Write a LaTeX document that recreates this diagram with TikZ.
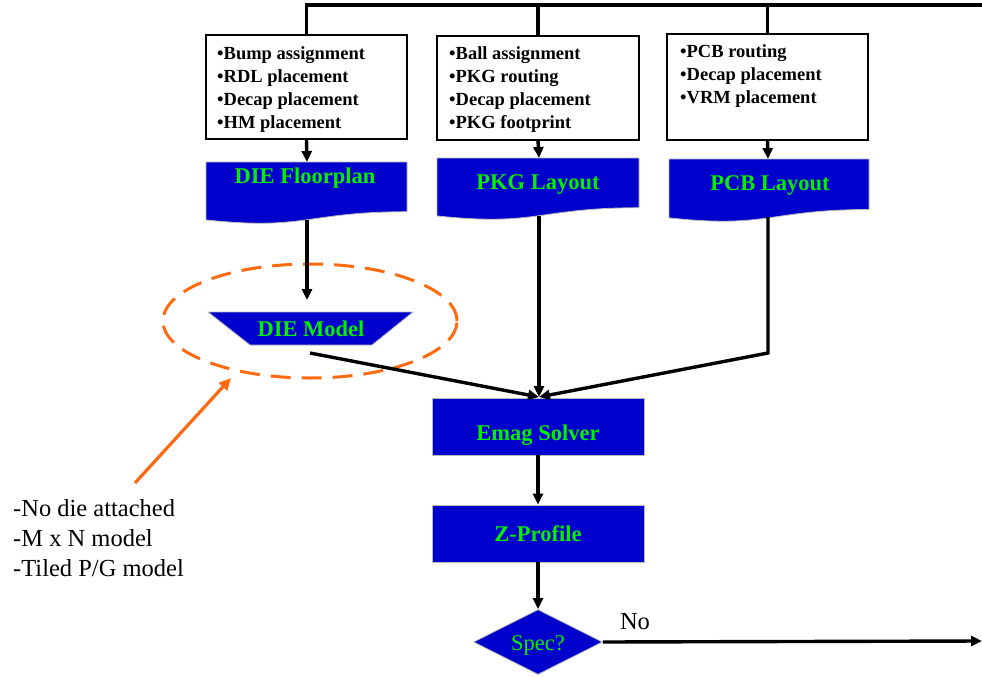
\documentclass[tikz,border=0pt]{standalone}
\usepackage{fontspec}
\setmainfont{Liberation Serif}
\usetikzlibrary{arrows.meta,shapes.geometric}
\definecolor{fblue}{HTML}{0000CC}
\definecolor{fgreen}{HTML}{00F000}
\definecolor{forange}{HTML}{FF6A10}
\newcommand\docshape[4]{% x0, x1, top, h
  \path[blueshape] (#1,#3) -- (#2,#3) -- (#2,{#3+0.802*#4})
    .. controls ({(#1+#2)/2},{#3+0.802*#4}) and ({(#1+#2)/2},{#3+1.107*#4}) .. (#1,{#3+0.934*#4}) -- cycle;}
\begin{document}
\begin{tikzpicture}[x=1pt,y=-1pt,
  wire/.style={line width=3.4pt, black},
  arr/.style={wire, -{Triangle[length=11pt,width=10pt]}},
  listbox/.style={draw, line width=1.2pt, fill=white, inner sep=0},
  listtext/.style={font=\fontsize{18.5}{23}\selectfont\bfseries, align=left, anchor=north west, inner sep=0},
  blueshape/.style={fill=fblue, draw=gray!55, line width=0.8pt},
  bluelabel/.style={text=fgreen, font=\fontsize{22.5}{26}\selectfont\bfseries},
  bluebox/.style={blueshape, minimum width=212pt, minimum height=57pt, inner sep=0},
  plain/.style={font=\fontsize{24.5}{30}\selectfont, inner sep=0}]
\useasboundingbox (0,0) rectangle (982,677);

% top bus
\coordinate (busEnd) at (983,5);

% input boxes
\node[listbox, minimum width=201pt, minimum height=104pt] (b1) at (306.5,87) {};
\node[listbox, minimum width=202pt, minimum height=104pt] (b2) at (538,88) {};
\node[listbox, minimum width=201pt, minimum height=106pt] (b3) at (767.5,87) {};
\node[listtext] (b1t) at (217,46) {•Bump assignment\\•RDL placement\\•Decap placement\\•HM placement};
\node[listtext] (b2t) at (449,46) {•Ball assignment\\•PKG routing\\•Decap placement\\•PKG footprint};
\node[listtext] (b3t) at (680,44) {•PCB routing\\•Decap placement\\•VRM placement};

\draw[wire] (busEnd) -| (b1.north);
\draw[wire] (b2.north |- busEnd) -- (b2.north);
\draw[wire] (b3.north |- busEnd) -- (b3.north);

% document shapes
\docshape{206}{407}{162}{62}
\docshape{437}{639}{158}{62}
\docshape{669}{869}{159}{63}
\coordinate (d1top) at (307,162);
\coordinate (d2top) at (539,158);
\coordinate (d3top) at (768,159);
\coordinate (d1bot) at (307,220);
\coordinate (d2bot) at (539,216);
\coordinate (d3bot) at (768,217);
\node[bluelabel] (d1) at (305,178) {DIE Floorplan};
\node[bluelabel] (d2) at (538,184) {PKG Layout};
\node[bluelabel] (d3) at (770,185) {PCB Layout};

\draw[arr] (b1.south) -- (d1top);
\draw[arr] (b2.south) -- (d2top);
\draw[arr] (b3.south) -- (d3top);

% DIE model
\node[ellipse, draw=forange, line width=3pt, dash pattern=on 20pt off 11pt, minimum width=294pt, minimum height=114pt, inner sep=0] (ell) at (310,321) {};
\path[blueshape] (208,312) -- (413,312) -- (372,345) -- (250,345) -- cycle;
\node[bluelabel] (dm) at (311,329) {DIE Model};
\coordinate (dmIn) at (307,300);
\coordinate (dmOut) at (310,353);
\draw[arr] (d1bot) -- (dmIn);

% solver chain
\node[bluebox] (emag) at (538,426.5) {};
\node[bluelabel] (emagt) at (538,435) {Emag Solver};
\node[bluebox] (zp) at (538,533.5) {};
\node[bluelabel] (zpt) at (538,534) {Z-Profile};
\node[diamond, blueshape, minimum width=129pt, minimum height=65pt, inner sep=0, aspect=2] (spec) at (538,642) {};
\node[text=fgreen, font=\fontsize{22.5}{26}\selectfont] (spect) at (538,645) {Spec?};

\coordinate (emagIn) at (539,397);
\coordinate (pcbBend) at (768,353);
\draw[arr] (dmOut) -- (emagIn);
\draw[arr] (d2bot) -- (emagIn);
\draw[arr] (d3bot) -- (pcbBend) -- (emagIn);
\draw[arr] (emag.south) -- (zp.north);
\draw[arr] (zp.south) -- (spec.north);

% No branch
\node[plain] (no) at (635,622) {No};
\coordinate (noEnd) at (982,641);
\draw[arr] (spec.east) -- (noEnd);

% annotation
\coordinate (annStart) at (135,483);
\coordinate (annTip) at (231,378);
\draw[line width=3.2pt, forange, -{Triangle[length=12pt,width=11pt]}] (annStart) -- (annTip);
\node[plain, anchor=north west, align=left] (ann) at (13,499) {-No die attached\\-M x N model\\-Tiled P/G model};
\end{tikzpicture}
\end{document}
